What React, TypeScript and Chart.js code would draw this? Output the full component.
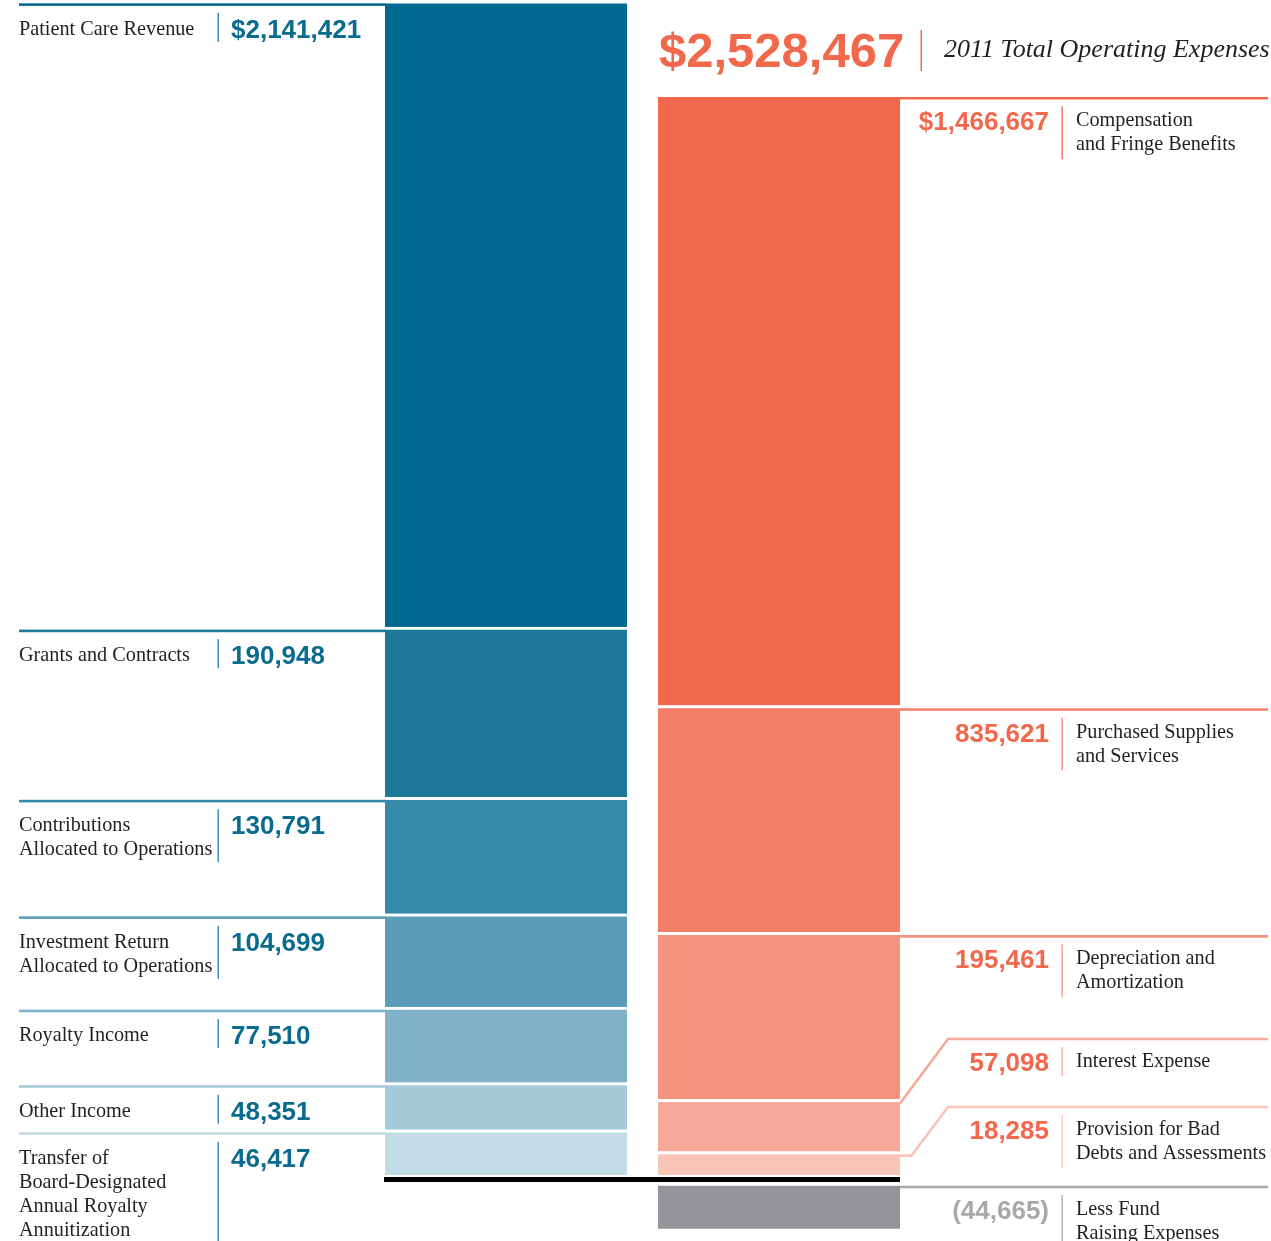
import React, { useEffect, useRef } from 'react';
import { Chart, registerables, LinearScale } from 'chart.js';

Chart.register(...registerables);

// ---------------- data ----------------
const columnLabels = ['Revenue', 'Expenses'];

const revenueLabels: string[][] = [
  ['Patient Care Revenue'],
  ['Grants and Contracts'],
  ['Contributions', 'Allocated to Operations'],
  ['Investment Return', 'Allocated to Operations'],
  ['Royalty Income'],
  ['Other Income'],
  ['Transfer of', 'Board-Designated', 'Annual Royalty', 'Annuitization'],
];
const revenueValues = [2141421, 190948, 130791, 104699, 77510, 48351, 46417];
const revenueColors = ['#006990', '#1D7899', '#3488A8', '#5B9DB8', '#80B3C8', '#A7CAD8', '#C2DBE4'];

const expenseLabels: string[][] = [
  ['Compensation', 'and Fringe Benefits'],
  ['Purchased Supplies', 'and Services'],
  ['Depreciation and', 'Amortization'],
  ['Interest Expense'],
  ['Provision for Bad', 'Debts and Assessments'],
  ['Less Fund', 'Raising Expenses'],
];
const expenseValues = [1466667, 835621, 195461, 57098, 18285, -44665];
const expenseColors = ['#F1684C', '#F47F66', '#F6937E', '#F8A999', '#FAC5B9', '#939598'];

const titleCaption = '2011 Total Operating Expenses';

// ---------------- styles ----------------
const INK = '#231F20';
const REV_TEXT = '#0B6B8F';
const REV_RULE = '#3F8FB2';
const EXP_TEXT = '#F1684C';
const NEG_TEXT = '#A7A9AC';
const LABEL_FONT = '22px "Liberation Serif", "DejaVu Serif", serif';
const LABEL_CONDENSE = 0.92;
const VALUE_FONT = 'bold 26px "Liberation Sans", Arial, sans-serif';
const BIG_FONT = 'bold 49px "Liberation Sans", Arial, sans-serif';
const CAPTION_FONT = 'italic 26px "Liberation Serif", "DejaVu Serif", serif';

const W = 1271;
const H = 1241;
const SEG_GAP = 3; // white gap between stacked segments (px)
const ZERO_GAP = 11; // white gap between baseline and negative bar (px)
const PX_PER_UNIT = 0.000914;
const ZERO_PX = 1175;

// broken (compressed) value axis: display units
const DISPLAY_MIN = -(H - ZERO_PX) / PX_PER_UNIT;
const DISPLAY_MAX = ZERO_PX / PX_PER_UNIT;

const sum = (a: number[]) => a.reduce((s, v) => s + v, 0);

type Seg = { upTo: number; rate: number };
const scaleProfiles: Record<string, { segs: Seg[]; negRate: number }> = {
  yRev: {
    segs: [
      { upTo: sum(revenueValues.slice(4)), rate: 1.066 },
      { upTo: sum(revenueValues.slice(1)), rate: 0.975 },
      { upTo: Infinity, rate: 0.32 },
    ],
    negRate: 1,
  },
  yExp: {
    segs: [
      { upTo: sum(expenseValues.slice(4, 5)), rate: 1.4 },
      { upTo: sum(expenseValues.slice(3, 5)), rate: 1.0 },
      { upTo: sum(expenseValues.slice(2, 5)), rate: 0.935 },
      { upTo: sum(expenseValues.slice(1, 5)), rate: 0.297 },
      { upTo: Infinity, rate: 0.456 },
    ],
    negRate: 1.05,
  },
};
const ZERO_GAP_UNITS = ZERO_GAP / PX_PER_UNIT;

function toDisplay(v: number, prof: { segs: Seg[]; negRate: number }) {
  if (v < 0) return v * prof.negRate - ZERO_GAP_UNITS;
  let d = 0;
  let prev = 0;
  for (const s of prof.segs) {
    const hi = Math.min(v, s.upTo);
    if (hi > prev) d += (hi - prev) * s.rate;
    if (v <= s.upTo) break;
    prev = s.upTo;
  }
  return d;
}

class BrokenScale extends LinearScale {
  static id = 'broken';
  static defaults = LinearScale.defaults;
  getPixelForValue(value: number) {
    const prof = scaleProfiles[(this as any).id];
    const d = toDisplay(value, prof);
    return this.getPixelForDecimal((d - DISPLAY_MIN) / (DISPLAY_MAX - DISPLAY_MIN));
  }
  getValueForPixel(pixel: number) {
    const prof = scaleProfiles[(this as any).id];
    const target = DISPLAY_MIN + this.getDecimalForPixel(pixel) * (DISPLAY_MAX - DISPLAY_MIN);
    let lo = -1e7;
    let hi = 1e8;
    for (let k = 0; k < 80; k++) {
      const mid = (lo + hi) / 2;
      if (toDisplay(mid, prof) < target) lo = mid;
      else hi = mid;
    }
    return (lo + hi) / 2;
  }
}
Chart.register(BrokenScale as any);

const fmt = (v: number, dollar: boolean) => {
  const s = Math.abs(v).toLocaleString('en-US');
  if (v < 0) return `(${s})`;
  return dollar ? `$${s}` : s;
};

function drawLabel(ctx: CanvasRenderingContext2D, text: string, x: number, y: number) {
  ctx.save();
  ctx.translate(x, y);
  ctx.scale(LABEL_CONDENSE, 1);
  ctx.fillText(text, 0, 0);
  ctx.restore();
}

export default function App() {
  const ref = useRef<HTMLCanvasElement | null>(null);

  useEffect(() => {
    if (!ref.current) return;
    const datasets: any[] = [];
    const revIdx: number[] = new Array(revenueValues.length);
    const expIdx: number[] = new Array(expenseValues.length);

    for (let i = revenueValues.length - 1; i >= 0; i--) {
      revIdx[i] = datasets.length;
      datasets.push({
        label: revenueLabels[i].join(' '),
        data: [revenueValues[i], null],
        backgroundColor: revenueColors[i],
        borderColor: '#ffffff',
        borderWidth: { top: SEG_GAP, right: 0, bottom: 0, left: 0 },
        borderSkipped: false,
        stack: 'revenue',
        yAxisID: 'yRev',
        barThickness: 242,
        skipNull: true,
      });
    }
    for (let i = expenseValues.length - 1; i >= 0; i--) {
      expIdx[i] = datasets.length;
      datasets.push({
        label: expenseLabels[i].join(' '),
        data: [null, expenseValues[i]],
        backgroundColor: expenseColors[i],
        borderColor: '#ffffff',
        borderWidth: { top: expenseValues[i] < 0 ? ZERO_GAP : SEG_GAP, right: 0, bottom: 0, left: 0 },
        borderSkipped: false,
        stack: 'expenses',
        yAxisID: 'yExp',
        barThickness: 242,
        skipNull: true,
      });
    }

    const annotations = {
      id: 'annotations',
      afterDatasetsDraw(chart: any) {
        const ctx: CanvasRenderingContext2D = chart.ctx;
        ctx.save();
        const rev = revIdx.map((di) => chart.getDatasetMeta(di).data[0] as any);
        const exp = expIdx.map((di) => chart.getDatasetMeta(di).data[1] as any);
        const revLeft = rev[0].x - rev[0].width / 2;
        const expLeft = exp[0].x - exp[0].width / 2;
        const expRight = exp[0].x + exp[0].width / 2;
        const zeroPx = chart.scales.yExp.getPixelForValue(0);

        // baseline
        ctx.fillStyle = '#000';
        ctx.fillRect(revLeft - 1, zeroPx + 2, expRight - revLeft + 1, 5);

        ctx.textBaseline = 'alphabetic';

        // revenue side
        const LX = 19;
        revenueLabels.forEach((lines, i) => {
          const el = rev[i];
          const top = Math.min(el.y, el.base) + SEG_GAP;
          ctx.fillStyle = revenueColors[i];
          ctx.fillRect(LX, top - 0.5, revLeft - LX + 1, 2.6);
          ctx.fillStyle = INK;
          ctx.font = LABEL_FONT;
          ctx.textAlign = 'left';
          lines.forEach((t, k) => drawLabel(ctx, t, LX, top + 31 + 24 * k));
          ctx.fillStyle = REV_RULE;
          ctx.fillRect(217.5, top + 9, 1.5, 24 * lines.length + 5);
          ctx.fillStyle = REV_TEXT;
          ctx.font = VALUE_FONT;
          ctx.fillText(fmt(revenueValues[i], i === 0), 231, top + 34);
        });

        // expense side
        const anchors = exp.map(
          (el: any, i: number) => Math.min(el.y, el.base) + (expenseValues[i] < 0 ? ZERO_GAP : SEG_GAP)
        );
        const lineYs = anchors.slice();
        for (let i = lineYs.length - 2; i >= 0; i--) {
          lineYs[i] = Math.min(anchors[i], lineYs[i + 1] - (56 + 12 * expenseLabels[i].length));
        }
        const RX = 1268;
        const DIAG_X = 948;
        expenseLabels.forEach((lines, i) => {
          const neg = expenseValues[i] < 0;
          const col = neg ? NEG_TEXT : expenseColors[i];
          const yA = anchors[i] + 1;
          const yL = lineYs[i] + 1;
          ctx.strokeStyle = col;
          ctx.lineWidth = 2.6;
          ctx.beginPath();
          if (anchors[i] - lineYs[i] > 1) {
            const elbow = Math.max(expRight, DIAG_X - (yA - yL) / 1.33);
            ctx.moveTo(expRight, yA);
            ctx.lineTo(elbow, yA);
            ctx.lineTo(DIAG_X, yL);
            ctx.lineTo(RX, yL);
          } else {
            ctx.moveTo(expRight, yL);
            ctx.lineTo(RX, yL);
          }
          ctx.stroke();

          const top = lineYs[i];
          ctx.fillStyle = neg ? NEG_TEXT : EXP_TEXT;
          ctx.font = VALUE_FONT;
          ctx.textAlign = 'right';
          ctx.fillText(fmt(expenseValues[i], i === 0), 1049, top + 33);
          ctx.fillStyle = col;
          ctx.fillRect(1061.5, top + 9, 1.3, 24 * lines.length + 5);
          ctx.fillStyle = INK;
          ctx.font = LABEL_FONT;
          ctx.textAlign = 'left';
          lines.forEach((t, k) => drawLabel(ctx, t, 1076, top + 29 + 24 * k));
        });

        // title
        const total = sum(expenseValues);
        ctx.fillStyle = EXP_TEXT;
        ctx.font = BIG_FONT;
        ctx.textAlign = 'left';
        ctx.fillText(fmt(total, true), expLeft + 1, 67);
        ctx.fillRect(920.5, 30, 1.5, 41);
        ctx.fillStyle = INK;
        ctx.font = CAPTION_FONT;
        ctx.fillText(titleCaption, 944, 57);

        ctx.restore();
      },
    };

    const chart = new Chart(ref.current, {
      type: 'bar',
      data: { labels: columnLabels, datasets },
      options: {
        responsive: false,
        animation: false,
        devicePixelRatio: 1,
        events: [],
        layout: { padding: { left: 369.5, right: 355.5, top: 0, bottom: 0 } },
        plugins: { legend: { display: false }, tooltip: { enabled: false }, title: { display: false } },
        scales: {
          x: { type: 'category', display: false, stacked: true, offset: true },
          yRev: { type: 'broken', display: false, stacked: true, min: -100000, max: 3000000, position: 'left' },
          yExp: { type: 'broken', display: false, stacked: true, min: -100000, max: 3000000, position: 'right' },
        } as any,
      },
      plugins: [annotations],
    } as any);
    return () => chart.destroy();
  }, []);

  return (
    <div style={{ position: 'absolute', left: 0, top: 0, width: W, height: H, background: '#fff' }}>
      <canvas ref={ref} width={W} height={H} style={{ display: 'block', width: W, height: H }} />
    </div>
  );
}
